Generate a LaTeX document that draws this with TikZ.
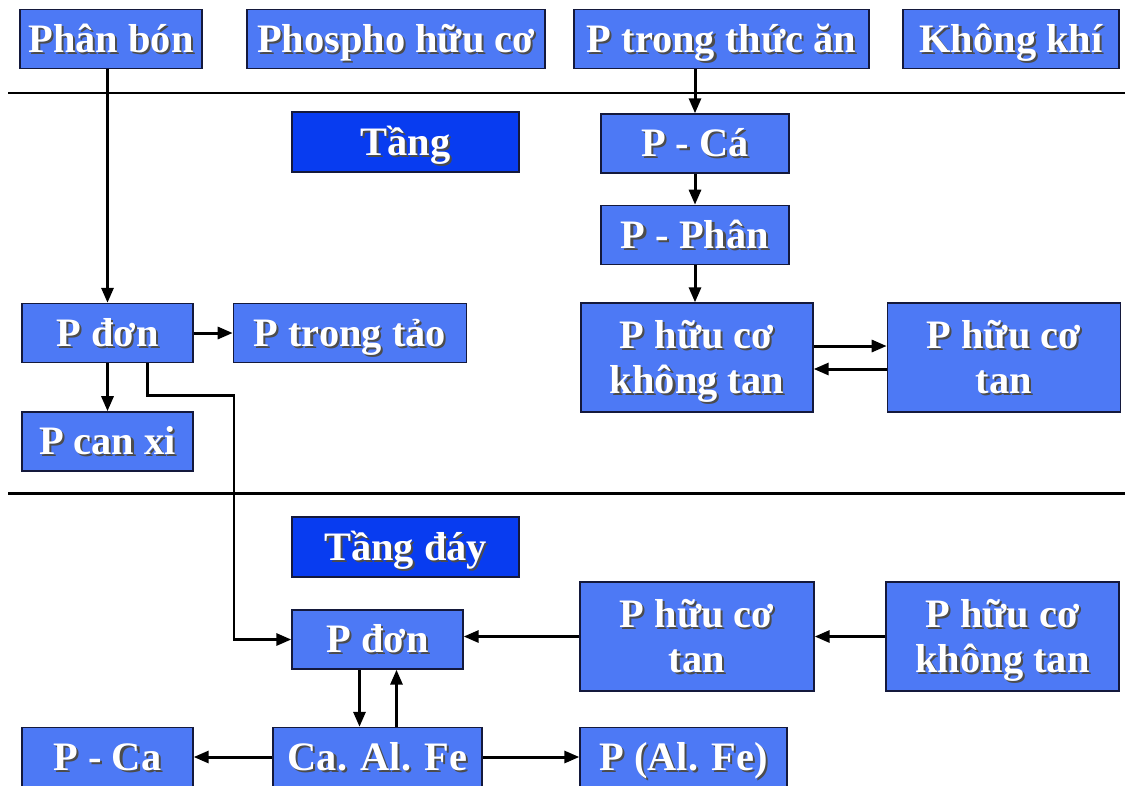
\documentclass[tikz,border=0pt]{standalone}
\usepackage{fontspec}
\setmainfont{Liberation Serif}
\usetikzlibrary{arrows.meta,positioning}
\definecolor{boxblue}{RGB}{77,121,245}
\definecolor{layerblue}{RGB}{8,60,240}
\definecolor{boxline}{RGB}{20,25,60}
\newcommand{\shtxt}[1]{\raisebox{0pt}[19pt][3.8pt]{\makebox[0pt][l]{\hspace{1.2pt}\raisebox{-1.2pt}{\textcolor{black!70}{#1}}}#1}}

\begin{document}
\begin{tikzpicture}[x=0.02cm,y=-0.02cm,->,>={Triangle[length=0.3cm,width=0.24cm]},line width=1.7pt,node distance=0.62cm]
\tikzstyle{pbox}=[rectangle,draw=boxline,line width=0.8pt,fill=boxblue,text=white,font=\bfseries\fontsize{23}{26}\selectfont,align=center,minimum height=1.18cm,inner sep=0pt]
\tikzstyle{layerbox}=[pbox,fill=layerblue,minimum width=4.54cm,minimum height=1.2cm]
\useasboundingbox (0,0) rectangle (1125,785);
\clip (0,0) rectangle (1125,785);
% sources
\node[pbox,minimum width=3.64cm] (fert) at (111,39) {\shtxt{Phân bón}};
\node[pbox,minimum width=5.96cm] (orgp) at (396,39) {\shtxt{Phospho hữu cơ}};
\node[pbox,minimum width=5.9cm] (food) at (721.5,39) {\shtxt{P trong thức ăn}};
\node[pbox,minimum width=4.32cm] (air) at (1011,39) {\shtxt{Không khí}};
\draw[-] (8,93) -- (1125,93);
% upper layer
\node[layerbox] (layer) at (405.5,142) {\shtxt{Tầng}};
\node[pbox,minimum width=3.76cm] (fish) at (695,143.5) {\shtxt{P - Cá}};
\node[pbox,minimum width=3.76cm,below=of fish] (feces) {\shtxt{P - Phân}};
\node[pbox,minimum width=3.42cm] (free) at (107.5,333) {\shtxt{P đơn}};
\node[pbox,minimum width=4.66cm,right=0.78cm of free] (algae) {\shtxt{P trong tảo}};
\node[pbox,minimum width=3.42cm,below=0.96cm of free] (calc) {\shtxt{P can xi}};
\node[pbox,minimum width=4.64cm,minimum height=2.18cm] (insol) at (697,357.5) {\shtxt{P hữu cơ}\\\shtxt{không tan}};
\node[pbox,minimum width=4.66cm,minimum height=2.18cm,right=1.46cm of insol] (sol) {\shtxt{P hữu cơ}\\\shtxt{tan}};
\draw[-] (8,493) -- (1125,493);
% bottom layer
\node[layerbox] (bottom) at (405.5,547) {\shtxt{Tầng đáy}};
\node[pbox,minimum width=3.42cm] (free2) at (377.5,639.5) {\shtxt{P đơn}};
\node[pbox,minimum width=4.68cm,minimum height=2.18cm] (sol2) at (697,636.5) {\shtxt{P hữu cơ}\\\shtxt{tan}};
\node[pbox,minimum width=4.66cm,minimum height=2.18cm] (insol2) at (1002.5,636.5) {\shtxt{P hữu cơ}\\\shtxt{không tan}};
\node[pbox,minimum width=4.18cm] (cafe) at (377.5,757) {\shtxt{Ca. Al. Fe}};
\node[pbox,minimum width=3.42cm] (pca) at (107.5,757) {\shtxt{P - Ca}};
\node[pbox,minimum width=4.14cm] (pal) at (683.5,757) {\shtxt{P (Al. Fe)}};
\coordinate (bend) at (234,395);
% arrows
\draw (free.north |- fert.south) -- (free.north);
\draw (fish.north |- food.south) -- (fish.north);
\draw (fish) -- (feces);
\draw (feces.south) -- (feces.south |- insol.north);
\draw (free) -- (algae);
\draw (free) -- (calc);
\draw ([yshift=0.23cm]insol.east) -- ([yshift=0.23cm]insol.east -| sol.west);
\draw ([yshift=-0.23cm]sol.west) -- ([yshift=-0.23cm]sol.west -| insol.east);
\draw ([xshift=0.8cm]free.south) |- (bend) |- (free2.west);
\draw (insol2) -- (sol2);
\draw (sol2.west) -- (sol2.west -| free2.east);
\draw ([xshift=-0.36cm]free2.south) -- ([xshift=-0.36cm]free2.south |- cafe.north);
\draw ([xshift=0.38cm]cafe.north) -- ([xshift=0.38cm]cafe.north |- free2.south);
\draw (cafe) -- (pca);
\draw (cafe) -- (pal);
\end{tikzpicture}
\end{document}
